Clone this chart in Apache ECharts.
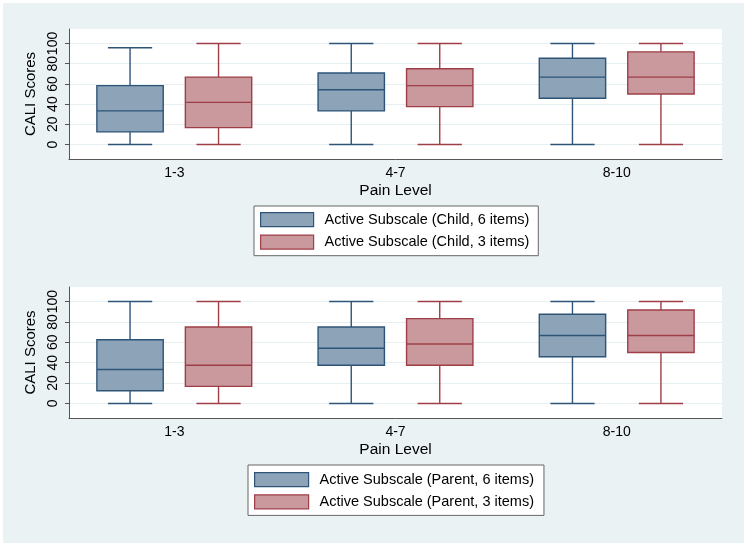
<!DOCTYPE html>
<html>
<head>
<meta charset="utf-8">
<script src="https://cdn.jsdelivr.net/npm/echarts@6/dist/echarts.min.js"></script>
<style>html,body{margin:0;padding:0;background:#fff}#c{width:750px;height:547px}</style>
</head>
<body>
<div id="c"></div>
<script>
// ---- data ----
const categories = ['1-3', '4-7', '8-10'];
const yTicks = [0, 20, 40, 60, 80, 100];
// each row: [min, Q1, median, Q3, max] per category
const childSix   = [[0, 12.5, 33.3, 58.3, 95.8], [0, 33.3, 54.2, 70.8, 100], [0, 45.8, 66.7, 85.4, 100]];
const childThree = [[0, 16.7, 41.7, 66.7, 100], [0, 37.5, 58.3, 75.0, 100], [0, 50.0, 66.7, 91.7, 100]];
const parentSix   = [[0, 12.5, 33.3, 62.5, 100], [0, 37.5, 54.2, 75.0, 100], [0, 45.8, 66.7, 87.5, 100]];
const parentThree = [[0, 16.7, 37.5, 75.0, 100], [0, 37.5, 58.3, 83.3, 100], [0, 50.0, 66.7, 91.7, 100]];
const seriesNames = [
  'Active Subscale (Child, 6 items)', 'Active Subscale (Child, 3 items)',
  'Active Subscale (Parent, 6 items)', 'Active Subscale (Parent, 3 items)'
];

// ---- styles ----
const FONT = '"Liberation Sans", Arial, sans-serif';
const BLUE = {fill: '#8CA3B8', stroke: '#2E5578'};
const RED = {fill: '#C9999D', stroke: '#9E3F47'};
const BOX_HALF = 0.15, CAP_HALF = 0.1, OFFSET = 0.2;

function toData(rows) {
  return rows.map((r, i) => [i + 1].concat(r));
}

function makeRender(off, col) {
  return function (params, api) {
    const x = api.value(0) + off;
    const mn = api.value(1), q1 = api.value(2), md = api.value(3), q3 = api.value(4), mx = api.value(5);
    const tl = api.coord([x - BOX_HALF, q3]);
    const br = api.coord([x + BOX_HALF, q1]);
    const cTop = api.coord([x, mx]);
    const cQ3 = api.coord([x, q3]);
    const cQ1 = api.coord([x, q1]);
    const cBot = api.coord([x, mn]);
    const mL = api.coord([x - BOX_HALF, md]);
    const mR = api.coord([x + BOX_HALF, md]);
    const capL = api.coord([x - CAP_HALF, mx])[0];
    const capR = api.coord([x + CAP_HALF, mx])[0];
    const ls = {stroke: col.stroke, lineWidth: 1.4};
    return {
      type: 'group',
      children: [
        {type: 'line', shape: {x1: cTop[0], y1: cTop[1], x2: cQ3[0], y2: cQ3[1]}, style: ls},
        {type: 'line', shape: {x1: cQ1[0], y1: cQ1[1], x2: cBot[0], y2: cBot[1]}, style: ls},
        {type: 'line', shape: {x1: capL, y1: cTop[1], x2: capR, y2: cTop[1]}, style: ls},
        {type: 'line', shape: {x1: capL, y1: cBot[1], x2: capR, y2: cBot[1]}, style: ls},
        {type: 'rect', shape: {x: tl[0], y: tl[1], width: br[0] - tl[0], height: br[1] - tl[1]},
          style: {fill: col.fill, stroke: col.stroke, lineWidth: 1.4}},
        {type: 'line', shape: {x1: mL[0], y1: mL[1], x2: mR[0], y2: mR[1]}, style: ls}
      ]
    };
  };
}

const panels = [
  {top: 29, height: 130},
  {top: 287, height: 131}
];

const grids = [], xAxes = [], yAxes = [];
panels.forEach((p, i) => {
  grids.push({left: 69, right: 28, top: p.top, height: p.height, show: true,
    backgroundColor: '#ffffff', borderWidth: 0});
  xAxes.push({
    type: 'value', gridIndex: i, min: 0.524, max: 3.476,
    name: 'Pain Level', nameLocation: 'middle', nameGap: 24,
    nameTextStyle: {fontFamily: FONT, fontSize: 15.5, color: '#000'},
    axisLine: {show: true, onZero: false, lineStyle: {color: '#555', width: 1}},
    axisTick: {show: false},
    splitLine: {show: false},
    axisLabel: {customValues: categories.map((c, k) => k + 1),
      formatter: v => categories[Math.round(v) - 1],
      fontFamily: FONT, fontSize: 14, color: '#000', margin: 7}
  });
  yAxes.push({
    type: 'value', gridIndex: i, min: -14.3, max: 114.3,
    name: 'CALI Scores', nameLocation: 'middle', nameGap: 21, nameRotate: 90,
    nameTextStyle: {fontFamily: FONT, fontSize: 15, color: '#000'},
    axisLine: {show: true, onZero: false, lineStyle: {color: '#555', width: 1}},
    axisTick: {show: true, length: 4, customValues: yTicks, lineStyle: {color: '#555'}},
    splitLine: {show: true, lineStyle: {color: '#E6EFF1', width: 1}},
    axisLabel: {customValues: yTicks, rotate: 90, margin: 9,
      fontFamily: FONT, fontSize: 14, color: '#000'}
  });
});

const option = {
  animation: false,
  backgroundColor: '#ffffff',
  graphic: [{type: 'rect', z: -100, silent: true,
    shape: {x: 3, y: 3, width: 741, height: 540}, style: {fill: '#EAF2F3'}}],
  grid: grids,
  xAxis: xAxes,
  yAxis: yAxes,
  legend: [
    {orient: 'vertical', left: 254, top: 206, padding: [6, 9, 6, 6], itemGap: 7.3,
      itemWidth: 53, itemHeight: 14, icon: 'rect',
      backgroundColor: '#fff', borderColor: '#666', borderWidth: 1,
      textStyle: {fontFamily: FONT, fontSize: 14.5, color: '#000', lineHeight: 14, padding: [0, 0, 0, 6]},
      data: [
        {name: seriesNames[0], itemStyle: {color: BLUE.fill, borderColor: BLUE.stroke, borderWidth: 1.2}},
        {name: seriesNames[1], itemStyle: {color: RED.fill, borderColor: RED.stroke, borderWidth: 1.2}}
      ]},
    {orient: 'vertical', left: 248, top: 465, padding: [7, 10, 6, 6], itemGap: 7,
      itemWidth: 54, itemHeight: 14, icon: 'rect',
      backgroundColor: '#fff', borderColor: '#666', borderWidth: 1,
      textStyle: {fontFamily: FONT, fontSize: 14.5, color: '#000', lineHeight: 14, padding: [0, 0, 0, 6]},
      data: [
        {name: seriesNames[2], itemStyle: {color: BLUE.fill, borderColor: BLUE.stroke, borderWidth: 1.2}},
        {name: seriesNames[3], itemStyle: {color: RED.fill, borderColor: RED.stroke, borderWidth: 1.2}}
      ]}
  ],
  series: [
    {name: seriesNames[0], type: 'custom', xAxisIndex: 0, yAxisIndex: 0, data: toData(childSix),
      encode: {x: 0, y: [1, 2, 3, 4, 5]}, itemStyle: {color: BLUE.fill}, renderItem: makeRender(-OFFSET, BLUE)},
    {name: seriesNames[1], type: 'custom', xAxisIndex: 0, yAxisIndex: 0, data: toData(childThree),
      encode: {x: 0, y: [1, 2, 3, 4, 5]}, itemStyle: {color: RED.fill}, renderItem: makeRender(OFFSET, RED)},
    {name: seriesNames[2], type: 'custom', xAxisIndex: 1, yAxisIndex: 1, data: toData(parentSix),
      encode: {x: 0, y: [1, 2, 3, 4, 5]}, itemStyle: {color: BLUE.fill}, renderItem: makeRender(-OFFSET, BLUE)},
    {name: seriesNames[3], type: 'custom', xAxisIndex: 1, yAxisIndex: 1, data: toData(parentThree),
      encode: {x: 0, y: [1, 2, 3, 4, 5]}, itemStyle: {color: RED.fill}, renderItem: makeRender(OFFSET, RED)}
  ]
};

const chart = echarts.init(document.getElementById('c'), null, {renderer: 'canvas'});
chart.setOption(option);
</script>
</body>
</html>
